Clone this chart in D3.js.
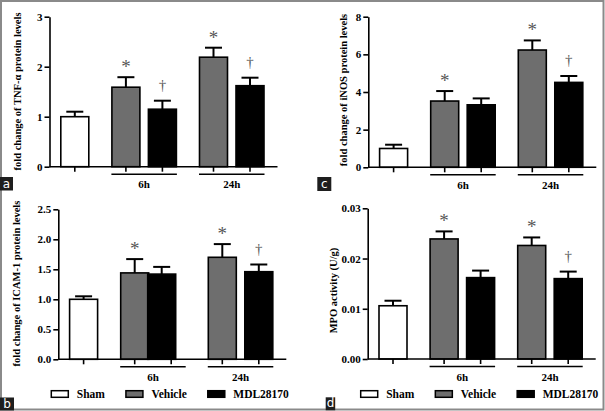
<!DOCTYPE html>
<html><head><meta charset="utf-8">
<script src="https://cdn.jsdelivr.net/npm/d3@7"></script>
<style>html,body{margin:0;padding:0;background:#fff}svg{display:block}.mk{opacity:0.99}</style>
</head><body>
<script>
// ---- data ----
const categories = ["Sham", "Vehicle 6h", "MDL28170 6h", "Vehicle 24h", "MDL28170 24h"];
const groupOf = ["Sham", "Vehicle", "MDL28170", "Vehicle", "MDL28170"];
const legendNames = ["Sham", "Vehicle", "MDL28170"];
const timeLabels = ["6h", "24h"];

const tnfMean = [1.0, 1.59, 1.15, 2.19, 1.62];
const tnfErr = [0.10, 0.20, 0.17, 0.19, 0.16];
const tnfMarks = ["", "*", "\u2020", "*", "\u2020"];
const tnfTicks = [0, 1, 2, 3];

const icamMean = [1.0, 1.44, 1.42, 1.70, 1.46];
const icamErr = [0.05, 0.23, 0.12, 0.22, 0.12];
const icamMarks = ["", "*", "", "*", "\u2020"];
const icamTicks = [0, 0.5, 1.0, 1.5, 2.0, 2.5];

const inosMean = [1.0, 3.52, 3.32, 6.23, 4.51];
const inosErr = [0.20, 0.53, 0.34, 0.51, 0.34];
const inosMarks = ["", "*", "", "*", "\u2020"];
const inosTicks = [0, 2, 4, 6, 8];

const mpoMean = [0.0106, 0.0239, 0.0162, 0.0226, 0.0160];
const mpoErr = [0.0010, 0.0015, 0.0014, 0.0016, 0.0014];
const mpoMarks = ["", "*", "", "*", "\u2020"];
const mpoTicks = [0, 0.01, 0.02, 0.03];

// ---- layout ----
const W = 605, H = 411;
const fill = {"Sham": "#ffffff", "Vehicle": "#6e6e6e", "MDL28170": "#000000"};
const FONT = "'Liberation Serif','Times New Roman',serif";

const svg = d3.select("body").append("svg").attr("width", W).attr("height", H);

svg.append("rect").attr("x", 1).attr("y", 1).attr("width", W - 2.5).attr("height", H - 2.5)
  .attr("fill", "none").attr("stroke", "#8a8a8a").attr("stroke-width", 2);

const panels = [
  {mean: tnfMean, err: tnfErr, marks: tnfMarks, ticks: tnfTicks, fmt: d3.format("d"),
   ax: 49.5, y0: 166.7, y1: 16.7, label: "fold change of TNF-\u03b1 protein levels", lx: 17, ly: 91.5,
   tag: "a", tagBox: [0, 177, 13, 13.5], legend: false, shift: [0,0,0,0,0]},
  {mean: inosMean, err: inosErr, marks: inosMarks, ticks: inosTicks, fmt: d3.format("d"),
   ax: 368.3, y0: 167.3, y1: 16.7, label: "fold change of iNOS protein levels", lx: 343.5, ly: 90,
   tag: "c", tagBox: [317.3, 177, 14, 14], legend: false, shift: [0,0,0,0,0]},
  {mean: icamMean, err: icamErr, marks: icamMarks, ticks: icamTicks, fmt: d3.format(".1f"),
   ax: 58.3, y0: 359.3, y1: 209.3, label: "fold change of ICAM-1 protein levels", lx: 16, ly: 283.5,
   tag: "b", tagBox: [0, 397.5, 14, 13], legend: true, shift: [0,0,-9.5,0,0]},
  {mean: mpoMean, err: mpoErr, marks: mpoMarks, ticks: mpoTicks, fmt: d3.format(".2f"),
   ax: 367.7, y0: 359, y1: 208.3, label: "MPO activity (U/g)", lx: 333.5, ly: 290.5,
   tag: "d", tagBox: [325.7, 397.3, 9.5, 13], legend: true, shift: [0,0,0,0,0]}
];

// slot index: extra gap before each time group
const slot = categories.map((c, i) => i + (i >= 1 ? 0.4 : 0) + (i >= 3 ? 0.4 : 0));
const BW = 28, CAP = 17;

panels.forEach(p => {
  const g = svg.append("g");
  const tmax = d3.max(p.ticks);
  const y = d3.scaleLinear().domain([0, tmax]).range([p.y0, p.y1]);
  const x = d3.scaleLinear().domain([0, d3.max(slot)]).range([p.ax + 25.3, p.ax + 25.3 + 175.2]);
  const xEnd = p.ax + 228;

  const data = categories.map((c, i) => ({c, i, m: p.mean[i], e: p.err[i], g: groupOf[i], mk: p.marks[i]}));
  data.forEach(d => {
    const cx = x(slot[d.i]) + p.shift[d.i];
    g.append("line").attr("x1", cx).attr("x2", cx).attr("y1", y(d.m)).attr("y2", y(d.m + d.e))
      .attr("stroke", "#000").attr("stroke-width", 2);
    g.append("line").attr("x1", cx - CAP / 2).attr("x2", cx + CAP / 2).attr("y1", y(d.m + d.e)).attr("y2", y(d.m + d.e))
      .attr("stroke", "#000").attr("stroke-width", 2);
  });
  g.selectAll("rect.bar").data(data).enter().append("rect").attr("class", "bar")
    .attr("x", d => x(slot[d.i]) + p.shift[d.i] - BW / 2).attr("width", BW)
    .attr("y", d => y(d.m)).attr("height", d => y(0) - y(d.m))
    .attr("fill", d => fill[d.g]).attr("stroke", "#000").attr("stroke-width", 1.6);

  data.filter(d => d.mk).forEach(d => {
    const cx = x(slot[d.i]) + p.shift[d.i];
    const top = y(d.m + d.e);
    const isStar = d.mk === "*";
    g.append("text").attr("class", "mk").attr("x", cx).attr("y", isStar ? top - 4 : top - 11)
      .attr("text-anchor", "middle").attr("font-family", FONT)
      .attr("font-size", isStar ? 19 : 15).attr("fill", "#555555").text(d.mk);
  });

  const yAxis = d3.axisLeft(y).tickValues(p.ticks).tickFormat(p.fmt).tickSize(5).tickSizeOuter(0).tickPadding(2);
  const ya = g.append("g").attr("transform", `translate(${p.ax},0)`).call(yAxis);
  ya.select(".domain").attr("stroke", "#000").attr("stroke-width", 1.6);
  ya.selectAll(".tick line").attr("stroke", "#000").attr("stroke-width", 1.6);
  ya.selectAll(".tick text").attr("font-family", FONT).attr("font-weight", "bold").attr("font-size", 11).attr("fill", "#000");

  g.append("line").attr("x1", p.ax).attr("x2", xEnd).attr("y1", y(0)).attr("y2", y(0))
    .attr("stroke", "#000").attr("stroke-width", 1.6);
  slot.forEach(s => {
    g.append("line").attr("x1", x(s)).attr("x2", x(s)).attr("y1", y(0)).attr("y2", y(0) + 5)
      .attr("stroke", "#000").attr("stroke-width", 1.6);
  });

  [[1, 2], [3, 4]].forEach((pair, k) => {
    const xa = x(slot[pair[0]]) - BW / 2 - 0.5, xb = x(slot[pair[1]]) + BW / 2 + 0.5;
    g.append("line").attr("x1", xa).attr("x2", xb).attr("y1", y(0) + 7.5).attr("y2", y(0) + 7.5)
      .attr("stroke", "#000").attr("stroke-width", 1.6);
    g.append("text").attr("x", (xa + xb) / 2).attr("y", y(0) + 21.5).attr("text-anchor", "middle")
      .attr("font-family", FONT).attr("font-weight", "bold").attr("font-size", 11).text(timeLabels[k]);
  });

  g.append("text").attr("transform", `translate(${p.lx},${p.ly}) rotate(-90)`)
    .attr("text-anchor", "middle").attr("dominant-baseline", "central")
    .attr("font-family", FONT).attr("font-weight", "bold").attr("font-size", 10.5).text(p.label);

  const [tx, ty, tw, th] = p.tagBox;
  g.append("rect").attr("x", tx).attr("y", ty).attr("width", tw).attr("height", th).attr("fill", "#1e1e1e");
  g.append("text").attr("x", tx + tw / 2).attr("y", ty + th - 3).attr("text-anchor", "middle")
    .attr("font-family", "'DejaVu Sans',sans-serif").attr("font-size", 12).attr("fill", "#fff").text(p.tag);

  if (p.legend) {
    let lx = p.ax - 7;
    const ly = 394;
    legendNames.forEach(name => {
      g.append("rect").attr("x", lx).attr("y", ly - 3.3).attr("width", 17).attr("height", 6.6)
        .attr("fill", fill[name]).attr("stroke", "#000").attr("stroke-width", 1.5);
      const t = g.append("text").attr("x", lx + 25.5).attr("y", ly + 4)
        .attr("font-family", FONT).attr("font-weight", "bold").attr("font-size", 11.5).text(name);
      lx += 25.5 + t.node().getComputedTextLength() + 21;
    });
  }
});
</script>
</body></html>
